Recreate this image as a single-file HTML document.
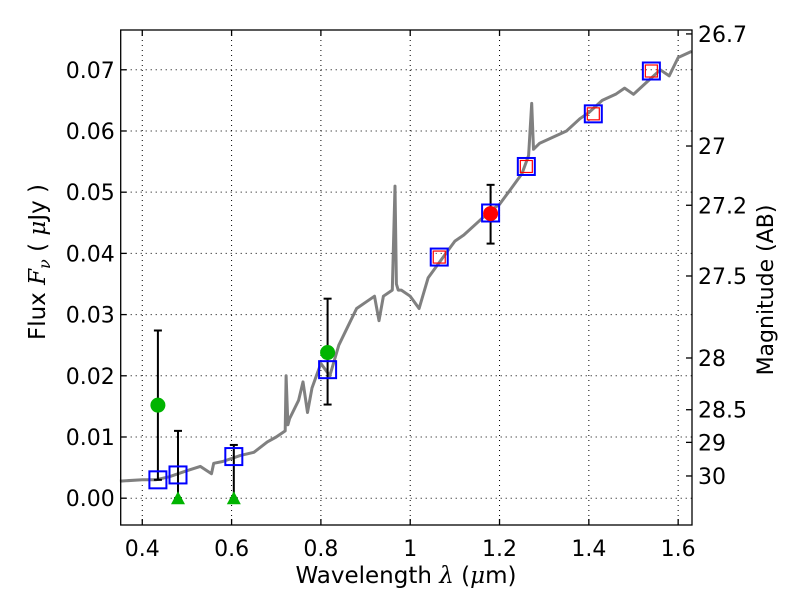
<!DOCTYPE html>
<html><head><meta charset="utf-8"><style>
body{margin:0;background:#fff}
svg text{font-family:"DejaVu Sans","Liberation Sans",sans-serif;fill:#000}
</style></head><body>
<svg id="chart" width="800" height="600" xmlns="http://www.w3.org/2000/svg">
<rect x="0" y="0" width="800" height="600" fill="#fff"/>
<g id="grid"></g>
<g id="spec"></g>
<g id="marks"></g>
<rect x="120.7" y="30" width="571.3" height="495" fill="none" stroke="#000" stroke-width="1.3"/>
<g id="ticks"></g>
<text x="406" y="583" font-size="23" text-anchor="middle">Wavelength  <tspan font-style="italic" font-family="DejaVu Serif, serif">λ</tspan> (<tspan font-style="italic" font-family="DejaVu Serif, serif">μ</tspan>m)</text>
<text transform="translate(45,262) rotate(-90)" font-size="23" text-anchor="middle">Flux  <tspan font-style="italic" font-family="DejaVu Serif, serif">F</tspan><tspan font-size="16" dy="5" font-style="italic" font-family="DejaVu Serif, serif">ν</tspan><tspan dy="-5">  ( </tspan><tspan font-style="italic" font-family="DejaVu Serif, serif">μ</tspan>Jy )</text>
<text transform="translate(773,290) rotate(-90)" font-size="22" text-anchor="middle">Magnitude (AB)</text>
</svg>
<script>
const specX=[0.35,0.40,0.43,0.46,0.50,0.53,0.555,0.56,0.58,0.62,0.65,0.68,0.70,0.72,0.722,0.726,0.73,0.75,0.76,0.77,0.78,0.79,0.80,0.82,0.84,0.86,0.88,0.90,0.92,0.93,0.94,0.96,0.966,0.969,0.973,0.98,1.0,1.02,1.04,1.06,1.08,1.10,1.12,1.15,1.18,1.20,1.22,1.25,1.265,1.272,1.276,1.29,1.32,1.35,1.38,1.40,1.43,1.46,1.48,1.50,1.53,1.56,1.58,1.60,1.63];
const specY=[0.0028,0.003,0.003,0.0035,0.0045,0.0052,0.004,0.0057,0.006,0.007,0.0075,0.0092,0.010,0.011,0.020,0.012,0.013,0.016,0.019,0.014,0.018,0.020,0.022,0.020,0.025,0.028,0.031,0.032,0.033,0.029,0.033,0.034,0.051,0.035,0.034,0.034,0.033,0.031,0.036,0.038,0.040,0.042,0.043,0.045,0.047,0.048,0.050,0.053,0.056,0.0645,0.057,0.058,0.059,0.060,0.062,0.063,0.065,0.066,0.067,0.066,0.068,0.070,0.069,0.072,0.073];
const sqX=[0.435,0.48,0.605,0.815,1.065,1.18,1.26,1.41,1.54];
const sqY=[0.003,0.0038,0.0068,0.021,0.0394,0.0466,0.0542,0.0628,0.0698];
const redSqX=[1.065,1.26,1.41,1.54];
const redSqY=[0.0394,0.0542,0.0628,0.0698];
const detX=[0.435,0.815];
const detY=[0.0152,0.0238];
const detLo=[0.003,0.0153];
const detHi=[0.0274,0.0326];
const ulX=[0.48,0.605];
const ulY=[0,0];
const ulHi=[0.011,0.0087];
const redX=[1.18];
const redY=[0.0465];
const redLo=[0.0416];
const redHi=[0.0512];
const xTicks=[0.4,0.6,0.8,1.0,1.2,1.4,1.6];
const xTickLabels=["0.4","0.6","0.8","1","1.2","1.4","1.6"];
const yTicks=[0,0.01,0.02,0.03,0.04,0.05,0.06,0.07];
const yTickLabels=["0.00","0.01","0.02","0.03","0.04","0.05","0.06","0.07"];
const magTicks=[26.7,27,27.2,27.5,28,28.5,29,30];
const magTickLabels=["26.7","27","27.2","27.5","28","28.5","29","30"];

const NS="http://www.w3.org/2000/svg";
const X0=0.3517,X1=1.631,PX0=120.7,PX1=692;
const Y0=-0.00438,Y1=0.0765,PY0=525,PY1=30;
function sx(v){return PX0+(v-X0)/(X1-X0)*(PX1-PX0);}
function sy(v){return PY0+(v-Y0)/(Y1-Y0)*(PY1-PY0);}
function mk(tag,attrs,parent){const e=document.createElementNS(NS,tag);for(const k in attrs)e.setAttribute(k,attrs[k]);parent.appendChild(e);return e;}
const grid=document.getElementById('grid'),ticks=document.getElementById('ticks'),spec=document.getElementById('spec'),marks=document.getElementById('marks');

xTicks.forEach((t,i)=>{
  const x=sx(t);
  const g=mk('line',{x1:x,x2:x,y1:PY1,y2:PY0,stroke:'#000','stroke-width':1,'stroke-dasharray':'1,4'},grid);
  
  
  mk('line',{x1:x,x2:x,y1:PY0,y2:PY0-6,stroke:'#000','stroke-width':1.3},ticks);
  mk('line',{x1:x,x2:x,y1:PY1,y2:PY1+6,stroke:'#000','stroke-width':1.3},ticks);
  const tx=mk('text',{x:x,y:PY0+31,'font-size':22,'text-anchor':'middle'},ticks);
  tx.textContent=xTickLabels[i];
  
  
});
yTicks.forEach((t,i)=>{
  const y=sy(t);
  const g=mk('line',{x1:PX0,x2:PX1,y1:y,y2:y,stroke:'#000','stroke-width':1,'stroke-dasharray':'1,4'},grid);
  
  
  mk('line',{x1:PX0,x2:PX0+6,y1:y,y2:y,stroke:'#000','stroke-width':1.3},ticks);
  const tx=mk('text',{x:PX0-6,y:y+8,'font-size':22,'text-anchor':'end'},ticks);
  tx.textContent=yTickLabels[i];
  
  
});
magTicks.forEach((m,i)=>{
  const f=Math.pow(10,-(m-23.9)/2.5);
  const y=sy(f);
  mk('line',{x1:PX1,x2:PX1-6,y1:y,y2:y,stroke:'#000','stroke-width':1.3},ticks);
  const tx=mk('text',{x:PX1+6,y:y+8,'font-size':22,'text-anchor':'start'},ticks);
  tx.textContent=magTickLabels[i];
  
  
});

const pts=specX.map((x,i)=>sx(x).toFixed(1)+','+sy(specY[i]).toFixed(1)).join(' ');
const pl=mk('polyline',{points:pts,fill:'none',stroke:'#808080','stroke-width':3,'stroke-linejoin':'round'},spec);



function errbar(x,lo,hi){
  const px=sx(x),a=sy(lo),b=sy(hi);
  mk('line',{x1:px,x2:px,y1:a,y2:b,stroke:'#000','stroke-width':2},marks);
  mk('line',{x1:px-4,x2:px+4,y1:a,y2:a,stroke:'#000','stroke-width':2},marks);
  mk('line',{x1:px-4,x2:px+4,y1:b,y2:b,stroke:'#000','stroke-width':2},marks);
}
detX.forEach((x,i)=>errbar(x,detLo[i],detHi[i]));
ulX.forEach((x,i)=>errbar(x,ulY[i],ulHi[i]));
redX.forEach((x,i)=>errbar(x,redLo[i],redHi[i]));

sqX.forEach((x,i)=>{
  const r=mk('rect',{x:sx(x)-8.5,y:sy(sqY[i])-8.5,width:17,height:17,fill:'none',stroke:'#0000ff','stroke-width':2},marks);
  
  
});
redSqX.forEach((x,i)=>{
  const r=mk('rect',{x:sx(x)-6,y:sy(redSqY[i])-6,width:12,height:12,fill:'none',stroke:'#ff0000','stroke-width':1.2},marks);
  
  
});
detX.forEach((x,i)=>{
  const c=mk('circle',{cx:sx(x),cy:sy(detY[i]),r:7.5,fill:'#00b400'},marks);
  
  
});
ulX.forEach((x,i)=>{
  const px=sx(x),py=sy(ulY[i]);
  const t=mk('polygon',{points:`${px},${py-7} ${px-7},${py+6} ${px+7},${py+6}`,fill:'#00b400'},marks);
  
  
});
redX.forEach((x,i)=>{
  const c=mk('circle',{cx:sx(x),cy:sy(redY[i]),r:7.5,fill:'#ff0000'},marks);
  
  
});
</script>
</body></html>
